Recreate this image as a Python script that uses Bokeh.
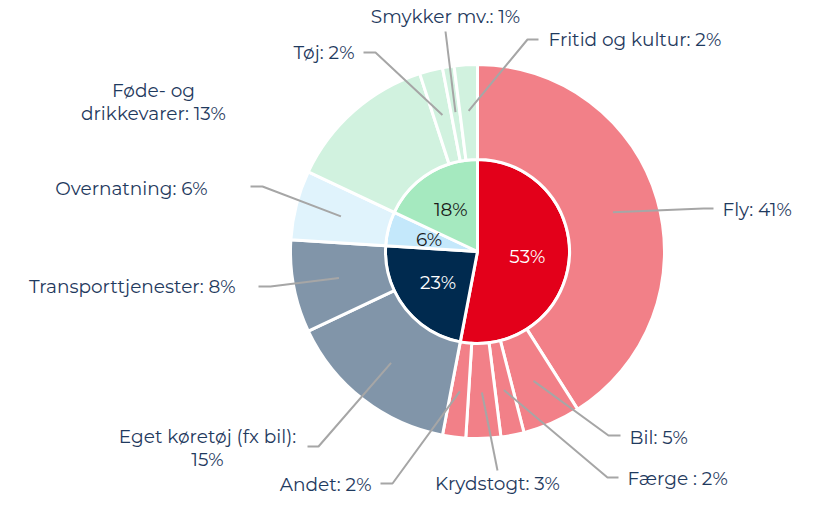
import math
from bokeh.plotting import figure
from bokeh.models import Range1d
from bokeh.core.properties import value
from bokeh.embed import file_html
from bokeh.resources import INLINE

# ---------------- data ----------------
inner_labels = ["Transport", "Egen transport", "Overnatning", "Øvrigt forbrug"]
inner_values = [53, 23, 6, 18]

outer_labels = ["Fly", "Bil", "Færge ", "Krydstogt", "Andet",
                "Eget køretøj (fx bil)", "Transporttjenester", "Overnatning",
                "Føde- og drikkevarer", "Tøj", "Smykker mv.", "Fritid og kultur"]
outer_values = [41, 5, 2, 3, 2, 15, 8, 6, 13, 2, 1, 2]
outer_group = [0, 0, 0, 0, 0, 1, 1, 2, 3, 3, 3, 3]

# ---------------- styles / layout ----------------
inner_colors = ["#E3001A", "#002A4F", "#C4E8FB", "#A5E9BF"]
outer_colors = ["#F28088", "#8195A9", "#E0F3FC", "#D1F2DF"]
inner_text_colors = ["white", "white", "#1a1a1a", "#1a1a1a"]
TEXT = "#1F3A5E"
LINE = "#A6A6A6"
FONT = "Montserrat, Noto Sans"
FS = "18.5px"

W, H = 802, 495
CX, CY = 477, 251          # centre, picture px
R_IN, R_OUT, R_LAB, R_PCT = 92, 187, 141, 50

def sy(y):                 # picture y -> data y
    return H - y

p = figure(width=W, height=H, output_backend="svg", toolbar_location=None,
           x_range=Range1d(0, W), y_range=Range1d(0, H), min_border=0)
p.axis.visible = False
p.grid.visible = False
p.outline_line_color = None
p.background_fill_color = "white"

def spans(vals):
    tot = sum(vals)
    out, acc = [], 0.0
    for v in vals:
        a0 = acc / tot * 360.0
        acc += v
        a1 = acc / tot * 360.0
        out.append((a0, a1))
    return out

# inner pie
isp = spans(inner_values)
p.wedge(x=[CX] * 4, y=[sy(CY)] * 4, radius=R_IN,
        start_angle=[math.radians(90 - b) for a, b in isp],
        end_angle=[math.radians(90 - a) for a, b in isp],
        fill_color=inner_colors, line_color="white", line_width=3)

# outer ring
osp = spans(outer_values)
p.annular_wedge(x=[CX] * len(osp), y=[sy(CY)] * len(osp),
                inner_radius=R_IN, outer_radius=R_OUT,
                start_angle=[math.radians(90 - b) for a, b in osp],
                end_angle=[math.radians(90 - a) for a, b in osp],
                fill_color=[outer_colors[g] for g in outer_group],
                line_color="white", line_width=3)

# inner percentages
for (a, b), v, c in zip(isp, inner_values, inner_text_colors):
    m = math.radians((a + b) / 2)
    x = CX + R_PCT * math.sin(m)
    y = CY - R_PCT * math.cos(m)
    p.text(x=[x], y=[sy(y)], text=[f"{v}%"], text_color=c,
           text_font=value(FONT), text_font_size=FS,
           text_align="center", text_baseline="middle")

# outer labels: (text lines, anchor x, anchor y, align, elbow, end) in picture px
label_layout = [
    (["Fly: 41%"], 722, 209, "left", (703, 208), (713, 208)),
    (["Bil: 5%"], 629, 437, "left", (608, 435), (620, 435)),
    (["Færge : 2%"], 627, 478, "left", (607, 477), (618, 477)),
    (["Krydstogt: 3%"], 497, 483, "center", (497, 470), (497, 470)),
    (["Andet: 2%"], 371, 484, "right", (392, 483), (380, 483)),
    (["Eget køretøj (fx bil):", "15%"], 207, 436, "center", (318, 446), (307, 446)),
    (["Transporttjenester: 8%"], 235, 286, "right", (270, 286), (258, 286)),
    (["Overnatning: 6%"], 207, 188, "right", (262, 186), (250, 186)),
    (["Føde- og", "drikkevarer: 13%"], 153, 90, "center", None, None),
    (["Tøj: 2%"], 354, 52, "right", (375, 52), (363, 52)),
    (["Smykker mv.: 1%"], 445, 16, "center", (445, 31), (445, 31)),
    (["Fritid og kultur: 2%"], 548, 39, "left", (527, 39), (538, 39)),
]

xs, ys = [], []
for (a, b), lay in zip(osp, label_layout):
    lines, tx, ty, align, elbow, end = lay
    for k, ln in enumerate(lines):
        p.text(x=[tx], y=[sy(ty + 23 * k)], text=[ln], text_color=TEXT,
               text_font=value(FONT), text_font_size=FS,
               text_align=align, text_baseline="middle")
    if elbow is None:
        continue
    m = math.radians((a + b) / 2)
    x0 = CX + R_LAB * math.sin(m)
    y0 = CY - R_LAB * math.cos(m)
    xs.append([x0, elbow[0], end[0]])
    ys.append([sy(y0), sy(elbow[1]), sy(end[1])])

p.multi_line(xs=xs, ys=ys, line_color=LINE, line_width=2)

open("out.html", "w").write(file_html(p, INLINE))
